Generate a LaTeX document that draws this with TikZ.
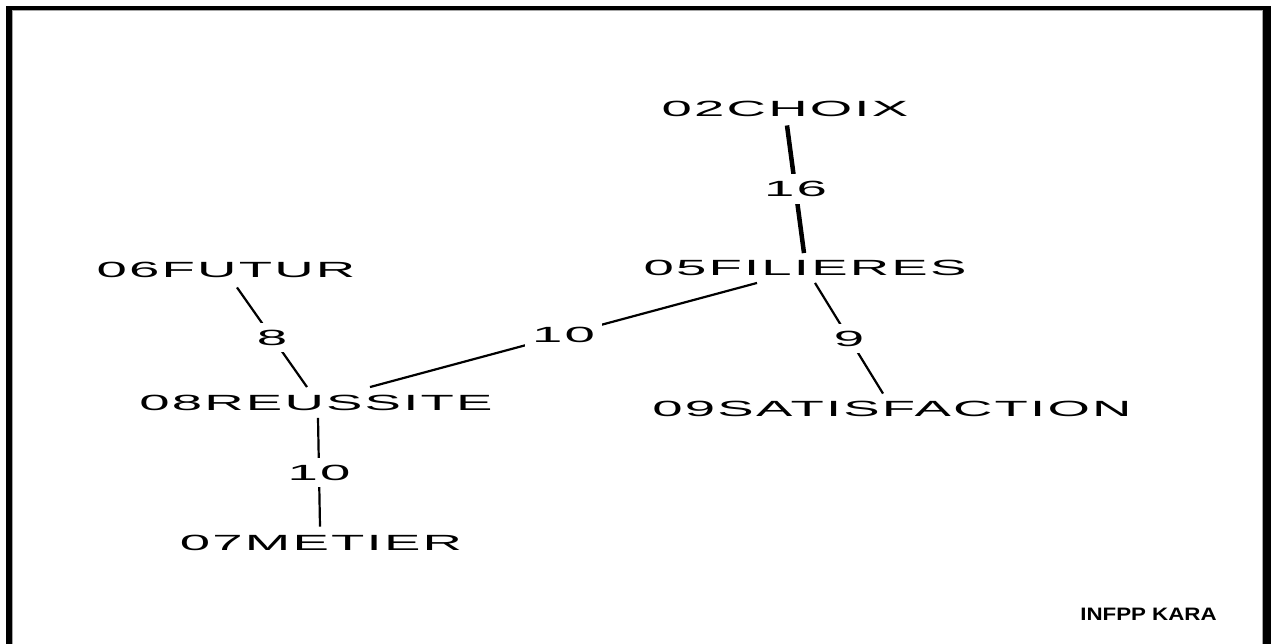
\documentclass[tikz,border=0pt]{standalone}
\usepackage{fontspec}
\usetikzlibrary{calc}
\newfontfamily\widefont[LetterSpace=4]{Liberation Sans}
\newfontfamily\tagfont{Liberation Sans Bold}
\newcommand\widetext[1]{\scalebox{2.48}[1]{#1}}
\tikzset{
  term/.style={inner sep=0pt, text height=15.5pt, text depth=0pt,
    font=\fontsize{22}{24}\selectfont\widefont},
  weight/.style={term, fill=white, inner sep=7pt, midway},
  link/.style={line width=2.2pt},
  heavylink/.style={line width=4.5pt},
}
\begin{document}
\begin{tikzpicture}[x=1pt,y=-1pt]
  \useasboundingbox (0,0) rectangle (1271,644);
  % frame, open at the bottom
  \fill[black] (6,6) rectangle (12,644);
  \fill[black] (6,6) rectangle (1271,10);
  \fill[black] (1263,6) rectangle (1271,644);
  \draw[gray!70, line width=0.8pt] (12.5,644) -- (12.5,10.5) -- (1262.5,10.5) -- (1262.5,644);

  % terms
  \node[term] (choix)  at (785,108.5) {\widetext{02CHOIX}};
  \node[term] (fil)    at (805,268)   {\widetext{05FILIERES}};
  \node[term] (sat)    at (892,408.5) {\widetext{09SATISFACTION}};
  \node[term] (futur)  at (226,269.5) {\widetext{06FUTUR}};
  \node[term] (reu)    at (316,403)   {\widetext{08REUSSITE}};
  \node[term] (metier) at (321,542.5) {\widetext{07METIER}};

  % weighted links
  \draw[heavylink] ($(choix.south)+(2,9)$) -- ($(fil.north)+(-1,-7)$) node[weight] {\widetext{16}};
  \draw[link] ($(fil.south)+(-48,7)$) -- ($(reu.north)+(54,-8)$) node[weight] {\widetext{10}};
  \draw[link] ($(fil.south)+(10,7)$) -- ($(sat.north)+(-9,-7)$) node[weight] {\widetext{9}};
  \draw[link] ($(futur.south)+(11,10)$) -- ($(reu.north)+(-9,-8)$) node[weight] {\widetext{8}};
  \draw[link] ($(reu.south)+(2,7)$) -- ($(metier.north)+(-1,-8)$) node[weight] {\widetext{10}};

  \node[font=\fontsize{18}{20}\selectfont\tagfont, inner sep=0pt] (tag) at (1148.5,614.5) {\scalebox{1.24}[1]{INFPP KARA}};
\end{tikzpicture}
\end{document}
